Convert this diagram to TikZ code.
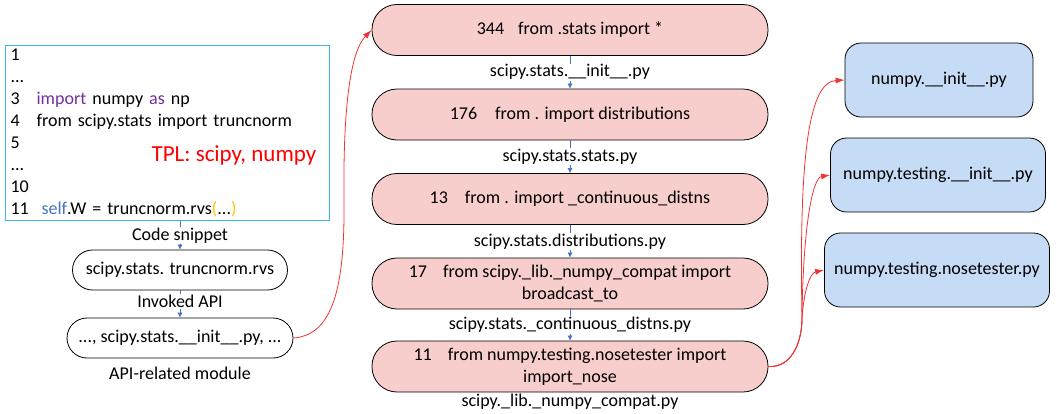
\documentclass[tikz,border=0pt]{standalone}
\usepackage{fontspec}
\setmainfont{Carlito}
\usetikzlibrary{positioning,arrows.meta}
\definecolor{pinkfill}{HTML}{F8CECC}
\definecolor{bluefill}{HTML}{C6DBF5}
\definecolor{codeline}{HTML}{3DB5E6}
\definecolor{flowblue}{HTML}{4472C4}
\definecolor{kwpurple}{HTML}{7030A0}
\definecolor{parorange}{HTML}{FFC000}
\definecolor{depred}{HTML}{F03434}

\begin{document}
\begin{tikzpicture}[x=1pt,y=-1pt,node distance=84.5pt,on grid,
    font=\fontsize{18}{22}\selectfont,
    imp/.style={draw,fill=pinkfill,rounded corners=25pt,minimum width=396pt,minimum height=51pt,align=center,line width=0.8pt},
    mods/.style={draw,fill=bluefill,rounded corners=16pt,minimum height=74pt,line width=0.8pt},
    api/.style={draw,rounded corners=20pt,minimum height=40pt,line width=0.8pt},
    lbl/.style={fill=white,text=black,inner sep=1pt},
    flow/.style={flowblue,line width=0.6pt,-{Latex[length=5pt,width=5pt]}},
    dep/.style={depred,line width=0.8pt,-{Latex[length=9pt,width=6pt]}}]
    \useasboundingbox (0,0) rectangle (1057,413);
    % code snippet
    \node[draw=codeline,line width=1.2pt,anchor=north west,text width=314pt,inner xsep=5pt,inner ysep=0pt,minimum height=175pt,align=left] (code) at (5,45)
    {\makebox[26pt][l]{1}\\
     \makebox[26pt][l]{...}\\
     \makebox[26pt][l]{3}\textcolor{kwpurple}{import} numpy \textcolor{kwpurple}{as} np\\
     \makebox[26pt][l]{4}from scipy.stats import truncnorm\\
     \makebox[26pt][l]{5}\\
     \makebox[26pt][l]{...}\\
     \makebox[26pt][l]{10}\\
     \makebox[31pt][l]{11}\textcolor{flowblue}{self}.W = truncnorm.rvs\textcolor{parorange}{(}...\textcolor{parorange}{)}};
    \node[red,font=\fontsize{23}{27}\selectfont] (tpl) at (234,155) {TPL: scipy, numpy};
    \node[api,minimum width=215pt] (inv) at (180,270) {scipy.stats. truncnorm.rvs};
    \node[api,minimum width=226pt] (mod) at (180,338) {..., scipy.stats.\_\_init\_\_.py, ...};
    \node (modlbl) [below=35pt of mod] {API-related module};
    \path[flow]
    (code.south -| inv) edge node[lbl] {Code snippet} (inv)
    (inv) edge node[lbl,pos=0.4] {Invoked API} (mod);
    % import chain
    \node[imp] (b1) at (570,30) {344\hspace{14pt}from .stats import *};
    \node[imp] (b2) [below=of b1] {176\hspace{18pt}from . import distributions};
    \node[imp] (b3) [below=of b2] {13\hspace{17pt}from . import \_continuous\_distns};
    \node[imp] (b4) [below=of b3] {17\hspace{16pt}from scipy.\_lib.\_numpy\_compat import\\broadcast\_to};
    \node[imp] (b5) [below=83pt of b4] {11\hspace{16pt}from numpy.testing.nosetester import\\import\_nose};
    \node (b5lbl) [below=35pt of b5] {scipy.\_lib.\_numpy\_compat.py};
    \path[flow]
    (b1) edge node[lbl] {scipy.stats.\_\_init\_\_.py} (b2)
    (b2) edge node[lbl] {scipy.stats.stats.py} (b3)
    (b3) edge node[lbl] {scipy.stats.distributions.py} (b4)
    (b4) edge node[lbl] {scipy.stats.\_continuous\_distns.py} (b5);
    % numpy modules
    \node[mods,minimum width=188pt] (nA) at (939,80) {numpy.\_\_init\_\_.py};
    \node[mods,minimum width=215pt] (nB) at (938,175) {numpy.testing.\_\_init\_\_.py};
    \node[mods,minimum width=225pt] (nC) at (937,270) {numpy.testing.nosetester.py};
    \coordinate (split) at (802,318);
    \draw[dep] (mod.east) .. controls (332,335) and (345,290) .. (344,200) .. controls (343,110) and (350,52) .. (b1.west);
    \draw[dep] (b5.east) .. controls (790,368) and (802,345) .. (split) .. controls (799,160) and (808,82) .. (nA.west);
    \draw[dep] (b5.east) .. controls (790,368) and (802,345) .. (split) .. controls (803,230) and (812,178) .. (nB.west);
    \draw[dep] (b5.east) .. controls (790,368) and (802,345) .. (split) .. controls (804,290) and (810,273) .. (nC.west);
\end{tikzpicture}
\end{document}
